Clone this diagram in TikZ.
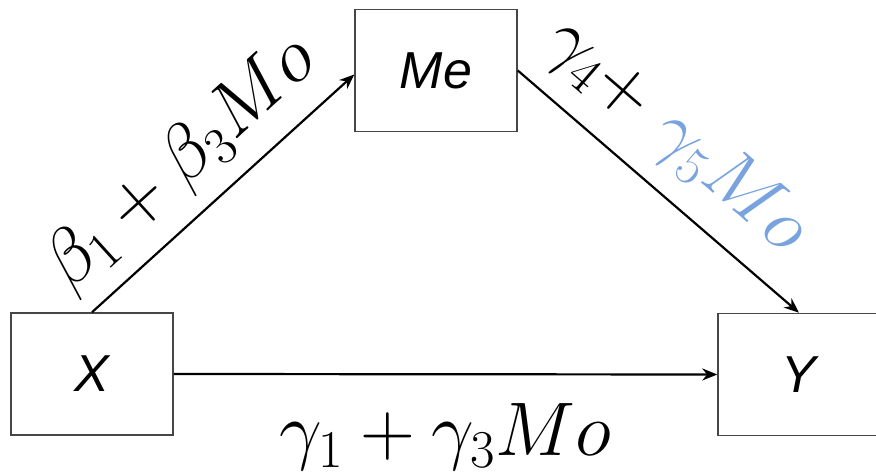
\RequirePackage{fix-cm}
\documentclass[tikz,border=0pt]{standalone}
\usepackage{xcolor}
\usepackage{fontspec}
\usepackage{tikz}
\usetikzlibrary{arrows.meta}
\newfontfamily\boxfont{Liberation Sans}
\definecolor{azulMod}{RGB}{120,163,222}
\definecolor{grisBox}{RGB}{70,70,70}
\tikzset{
  varbox/.style={draw=grisBox, line width=0.75pt, minimum width=81pt,
    minimum height=61pt, inner sep=0pt,
    font=\boxfont\itshape\fontsize{26}{30}\selectfont},
  conn/.style={-{Stealth[length=7.5pt,width=6pt]}, line width=1.1pt},
  coef/.style={font=\fontsize{38}{44}\selectfont}
}

\begin{document}
\begin{tikzpicture}[x=0.5pt,y=-0.5pt]
  \useasboundingbox (0,0) rectangle (876,474);
  % Variables
  \node[varbox] (X) at (92,374) {X};
  \node[varbox] (Me) at (436,70.5) {Me};
  \node[varbox] (Y) at (799,374.5) {Y};
  % X -> Me
  \draw[conn] (X.north) -- node[coef, sloped, above=4pt, pos=0.47] (a)
    {$\beta_1+\beta_3Mo$} ([yshift=-2pt]Me.west);
  % Me -> Y (moderated part in blue)
  \draw[conn] (Me.east) -- node[coef, sloped, above=6pt, pos=0.44] (b)
    {$\gamma_4+$ \textcolor{azulMod}{$\gamma_5Mo$}} (Y.north);
  % X -> Y
  \draw[conn] (X.east) -- node[coef, below=11pt] (c)
    {$\gamma_1+\gamma_3Mo$} (Y.west);
\end{tikzpicture}
\end{document}
